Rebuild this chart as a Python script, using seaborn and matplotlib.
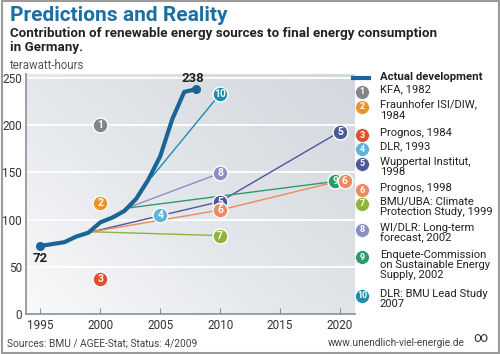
import numpy as np
import matplotlib.pyplot as plt
import seaborn as sns
import pandas as pd
from matplotlib.patches import Rectangle
from matplotlib.colors import LinearSegmentedColormap

# actual development (TWh)
actual_years = [1995, 1996, 1997, 1998, 1999, 2000, 2001, 2002, 2003, 2004, 2005, 2006, 2007, 2008]
actual_vals = [72, 74, 76, 82, 86, 97, 102, 109, 122, 142, 167, 206, 235, 238]

# forecasts: line points and marker points
fc_ids = ["1", "2", "3", "4", "5", "6", "7", "8", "9", "10"]
fc_labels = ["KFA, 1982", "Fraunhofer ISI/DIW,\n1984", "Prognos, 1984", "DLR, 1993",
             "Wuppertal Institut,\n1998", "Prognos, 1998", "BMU/UBA: Climate\nProtection Study, 1999",
             "WI/DLR: Long-term\nforecast, 2002", "Enquete-Commission\non Sustainable Energy\nSupply, 2002",
             "DLR: BMU Lead Study\n2007"]
fc_colors = ["#858585", "#e8962a", "#e0502b", "#5db5d8", "#4b5899", "#ee8a5e",
             "#8cb43a", "#8b8fc6", "#2b9b6c", "#1c8db0"]
fc_line_x = [[], [], [], [], [1999.3, 2010, 2020], [1999.3, 2010, 2020], [1999.3, 2010],
             [2002.2, 2010], [2002.2, 2020], [2004.3, 2010]]
fc_line_y = [[], [], [], [], [87, 119, 193], [87, 110, 141], [87, 83],
             [112, 149], [112, 141], [145, 233]]
fc_mark_x = [[2000], [2000], [2000], [2005], [2010, 2020], [2010, 2020.4], [2010],
             [2010], [2019.6], [2010]]
fc_mark_y = [[200], [117], [37], [105], [119, 193], [110, 141], [83],
             [149], [141], [233]]

blue = "#1a6496"
plt.rcParams['font.family'] = ['Roboto', 'DejaVu Sans']

fig = plt.figure(figsize=(5, 3.54), dpi=100)
fig.patches.append(Rectangle((0.003, 0.004), 0.994, 0.992, transform=fig.transFigure,
                             fill=False, edgecolor="#9a9a9a", linewidth=1.5))

ax = fig.add_axes([0.052, 0.113, 0.658, 0.678])
xlim = (1993.8, 2021.25)
ylim = (0, 254)
grad = np.linspace(0, 1, 200)
gx, gy = np.meshgrid(grad, grad[::-1])
bg = 0.55 * gx + 0.45 * gy
bg_cmap = LinearSegmentedColormap.from_list("bg", ["#f8f9fa", "#e2e5e9", "#d3d8de"])
ax.imshow(bg, extent=[*xlim, *ylim], aspect="auto", cmap=bg_cmap,
          vmin=0, vmax=1, zorder=0, origin="upper")
ax.set_xlim(*xlim)
ax.set_ylim(*ylim)
for yv in [50, 100, 150, 200, 250]:
    ax.axhline(yv, color="white", lw=1.3, zorder=1)

for i in range(len(fc_ids)):
    if fc_line_x[i]:
        ax.plot(fc_line_x[i], fc_line_y[i], color=fc_colors[i], lw=1, zorder=2)

df = pd.DataFrame({"year": actual_years, "twh": actual_vals})
sns.lineplot(data=df, x="year", y="twh", ax=ax, color=blue, lw=3, zorder=3)
ax.scatter([actual_years[0], actual_years[-1]], [actual_vals[0], actual_vals[-1]],
           s=30, color=blue, zorder=4)
ax.text(actual_years[0], actual_vals[0] - 6, str(actual_vals[0]), ha="center", va="top",
        fontsize=9.5, fontweight="bold", color="#222222")
ax.text(actual_years[-1] - 0.3, actual_vals[-1] + 4, str(actual_vals[-1]), ha="center", va="bottom",
        fontsize=9.5, fontweight="bold", color="#222222")

order = [0, 1, 2, 3, 4, 6, 7, 8, 9, 5]
for i in order:
    ax.scatter(fc_mark_x[i], fc_mark_y[i], s=115, color=fc_colors[i], edgecolor="white",
               linewidth=1, zorder=5)
    for mx, my in zip(fc_mark_x[i], fc_mark_y[i]):
        ax.text(mx, my, fc_ids[i], ha="center", va="center", color="white",
                fontsize=7.5, fontweight="bold", zorder=6)

ax.set_xticks([1995, 2000, 2005, 2010, 2015, 2020])
ax.set_yticks([0, 50, 100, 150, 200, 250])
ax.tick_params(axis="x", direction="in", length=4, color="#8a9099", labelsize=8.5, labelcolor="#333333")
ax.tick_params(axis="y", length=0, labelsize=8.5, labelcolor="#333333", pad=3)
ax.set_xlabel("")
ax.set_ylabel("")
for s in ["top", "right"]:
    ax.spines[s].set_visible(False)
for s in ["left", "bottom"]:
    ax.spines[s].set_color("#8a9099")
    ax.spines[s].set_linewidth(1.2)

# titles
fig.text(0.02, 0.955, "Predictions and Reality", fontsize=15, fontweight="bold", color="#1c6fa3",
         va="center")
fig.text(0.02, 0.885, "Contribution of renewable energy sources to final energy consumption\nin Germany.",
         fontsize=9.6, fontweight="bold", color="#222222", va="center", linespacing=1.05)
fig.text(0.02, 0.816, "terawatt-hours", fontsize=8.3, color="#555555", va="center")
fig.text(0.014, 0.03, "Sources: BMU / AGEE-Stat; Status: 4/2009", fontsize=7.3, color="#444444", va="center")
fig.text(0.93, 0.03, "www.unendlich-viel-energie.de", fontsize=7.3, color="#444444", va="center", ha="right")
fig.text(0.96, 0.045, "∞", fontsize=10, color="#333333", ha="center", va="center")

# legend
lx = 362 / 500
tx = 380 / 500
fig.add_artist(plt.Line2D([lx - 0.018, lx + 0.014], [1 - 78 / 354] * 2, color=blue, lw=3))
fig.text(tx, 1 - 77 / 354, "Actual development", fontsize=8.2, fontweight="bold", color="#222222", va="center")
leg_y = [92, 107, 135, 149, 164, 190, 204, 230, 257, 296]
for i in range(len(fc_ids)):
    y = 1 - leg_y[i] / 354
    fig.add_artist(plt.Line2D([lx], [y], marker="o", markersize=10, color=fc_colors[i],
                              markeredgecolor="white", markeredgewidth=0.5))
    fig.text(lx, y, fc_ids[i], ha="center", va="center", color="white", fontsize=6.5, fontweight="bold")
    fig.text(tx, y + 0.021, fc_labels[i], fontsize=8.1, color="#222222", va="top", linespacing=1.04)

fig.savefig("out.png", dpi=100)
